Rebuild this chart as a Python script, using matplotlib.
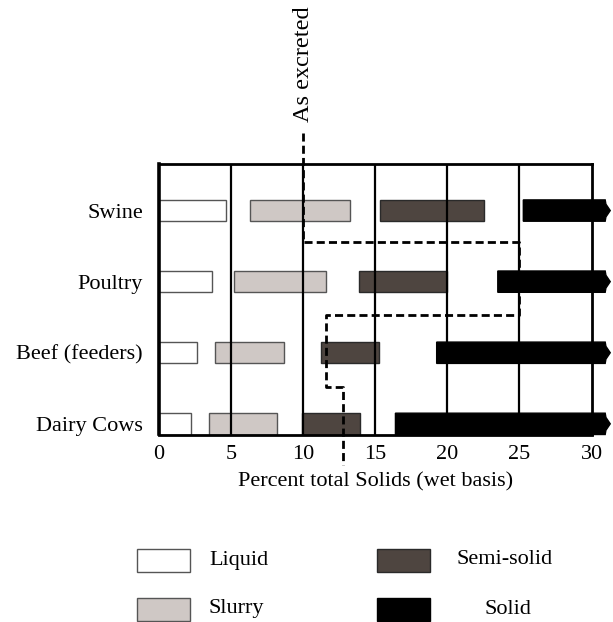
import numpy as np
import matplotlib
matplotlib.use("Agg")
import matplotlib.pyplot as plt
from matplotlib.patches import Rectangle, Polygon

plt.rcParams['font.family'] = ['Liberation Serif', 'DejaVu Serif']

animals = ['Swine', 'Poultry', 'Beef (feeders)', 'Dairy Cows']
# (start, end) of each consistency range, percent total solids
liquid = [(0, 4.65), (0, 3.65), (0, 2.63), (0, 2.24)]
slurry = [(6.3, 13.27), (5.2, 11.6), (3.86, 8.65), (3.49, 8.2)]
semi_solid = [(15.35, 22.55), (13.9, 20.0), (11.23, 15.23), (9.94, 13.94)]
solid = [(25.27, 31.0), (23.5, 31.0), (19.26, 31.0), (16.4, 31.0)]

# "As excreted" step line
excreted_x = [10, 10, 25, 25, 11.55, 11.55, 12.78, 12.78]
excreted_y = [4.09, 2.556, 2.556, 1.528, 1.528, 0.514, 0.514, -0.58]

ticks = [0, 5, 10, 15, 20, 25, 30]

W, H = 613, 622
FS = 16
fig = plt.figure(figsize=(W / 100, H / 100), dpi=100)
ax = fig.add_axes([159 / W, 1 - 434.5 / H, (591.5 - 159) / W, (434.5 - 163.5) / H])

rows = [3, 2, 1, 0]
bh = 0.3
styles = [
    (liquid, 'white', '#555555'),
    (slurry, '#cfc8c5', '#555555'),
    (semi_solid, '#4e4540', '#2a2a2a'),
]
for data, fc, ec in styles:
    for r, (a, b) in zip(rows, data):
        ax.add_patch(Rectangle((a, r - bh / 2), b - a, bh, facecolor=fc,
                               edgecolor=ec, linewidth=1.0, zorder=2))
for r, (a, b) in zip(rows, solid):
    pts = [(a, r - bh / 2), (b - 0.05, r - bh / 2), (b, r - bh * 0.3),
           (b + 0.3, r), (b, r + bh * 0.3), (b - 0.05, r + bh / 2),
           (a, r + bh / 2)]
    ax.add_patch(Polygon(pts, closed=True, facecolor='black', edgecolor='black',
                         linewidth=1.0, zorder=2, clip_on=False))

for t in ticks[1:-1]:
    ax.axvline(t, color='black', linewidth=1.6, zorder=3)

ax.plot(excreted_x, excreted_y, color='black', linewidth=2.0,
        dashes=(2.9, 1.5), zorder=4, clip_on=False)
ax.text(10, 4.25, 'As excreted', rotation=90, ha='center', va='bottom',
        fontsize=17.5)

ax.set_xlim(0, 30)
ax.set_ylim(-0.15, 3.662)
ax.set_xticks(ticks)
ax.set_xticklabels([str(t) for t in ticks], fontsize=FS)
ax.set_yticks(rows)
ax.set_yticklabels(animals, fontsize=FS)
ax.tick_params(length=0)
ax.tick_params(axis='x', pad=7.5)
ax.tick_params(axis='y', pad=11.5)
for s in ax.spines.values():
    s.set_linewidth(2.0)
ax.spines['left'].set_linewidth(2.6)
ax.set_xlabel('Percent total Solids (wet basis)', fontsize=FS, labelpad=6)

# legend drawn manually in pixel positions
def px(x, y):
    return x / W, 1 - y / H

legend = [
    ('Liquid', 'white', '#555555', 137, 549, 209, 'left'),
    ('Slurry', '#cfc8c5', '#555555', 137, 598, 209, 'left'),
    ('Semi-solid', '#4e4540', '#2a2a2a', 377, 549, 505, 'center'),
    ('Solid', 'black', 'black', 377, 598, 508, 'center'),
]
for label, fc, ec, x0, y0, tx, ha in legend:
    fig.add_artist(Rectangle(px(x0, y0 + 23), 53 / W, 23 / H, facecolor=fc,
                             edgecolor=ec, linewidth=1.0,
                             transform=fig.transFigure))
    fig.text(*px(tx, y0 + 11), label, ha=ha, va='center', fontsize=FS)

fig.savefig('out.png', dpi=100)
